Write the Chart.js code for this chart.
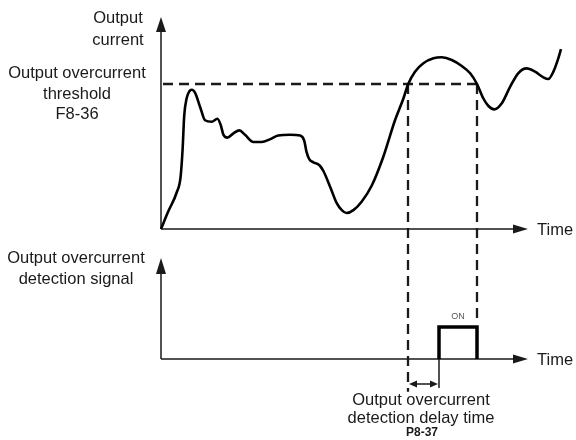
<!DOCTYPE html>
<html>
<head>
<meta charset="utf-8">
<script src="https://cdn.jsdelivr.net/npm/chart.js@4.4.1/dist/chart.umd.min.js"></script>
<style>
  html, body { margin: 0; padding: 0; background: #ffffff; }
  #wrap { position: relative; width: 576px; height: 440px; }
</style>
</head>
<body>
<div id="wrap"><canvas id="chart" width="576" height="440"></canvas></div>
<script>
// Output current over time (threshold = 100)
const timeValues = [0, 1.8, 3.9, 4.9, 5.4, 5.8, 6.4, 7.1, 7.7, 8.5,
  9.8, 11, 12.7, 14.1, 14.9, 15.6, 16.6, 18.1, 19.6, 21,
  23.1, 25.2, 27.3, 29.3, 32.3, 34.8, 35.8, 36.4, 37.1, 38.1,
  39.6, 40.6, 42.3, 43.9, 45.2, 46.4, 48.1, 50.2, 52.7, 55.6,
  58.5, 60.6, 61.8, 63.5, 65.6, 68.1, 70.2, 72.7, 75.2, 77.3,
  79, 80.6, 81.8, 83.3, 85.2, 87.3, 89.3, 91.4, 93.5, 95.6,
  96.8, 98.1, 99.2, 100];
const currentValues = [0, 12, 25, 36, 55, 78, 90, 95, 96, 94,
  84, 75, 74, 76, 72, 65, 63, 66, 68, 65,
  60, 60, 62, 64.5, 65, 64.5, 61, 53, 48, 46,
  44, 40, 29, 18, 13, 11, 13, 19, 30, 50,
  75, 90, 100, 108.5, 114.3, 117.7, 118.4, 116.6, 112.4, 107.4,
  100, 90, 85, 82.5, 86.7, 98.2, 107.4, 110.8, 108.5, 104.6,
  103.4, 108.5, 116.6, 124];

// Overcurrent detection signal (0 = off, 1 = ON)
const signalTimes = [69.5, 69.5, 79, 79];
const signalValues = [0, 1, 1, 0];

// Threshold F8-36 and the moments the current crosses it
const threshold = 100;
const crossUpTime = 61.75;
const crossDownTime = 79;
const detectTime = 69.5;   // crossUpTime + delay P8-37
const axisEndTime = 91.75;

const FONT = '"Liberation Sans", Arial, Helvetica, sans-serif';
const INK = '#1a1a1a';

function arrowHead(ctx, x, y, dir, len, half) {
  ctx.beginPath();
  if (dir === 'up') {
    ctx.moveTo(x, y); ctx.lineTo(x - half, y + len); ctx.lineTo(x + half, y + len);
  } else if (dir === 'right') {
    ctx.moveTo(x, y); ctx.lineTo(x - len, y - half); ctx.lineTo(x - len, y + half);
  } else if (dir === 'left') {
    ctx.moveTo(x, y); ctx.lineTo(x + len, y - half); ctx.lineTo(x + len, y + half);
  }
  ctx.closePath();
  ctx.fill();
}

const diagramPlugin = {
  id: 'diagram',
  beforeDatasetsDraw(chart) {
    const { ctx, scales } = chart;
    const x = scales.x, yc = scales.yCur, ys = scales.ySig;
    const x0 = x.getPixelForValue(0);
    const xEnd = x.getPixelForValue(axisEndTime);
    const yBase = yc.getPixelForValue(0);
    const sBase = ys.getPixelForValue(0);
    ctx.save();
    ctx.strokeStyle = INK;
    ctx.fillStyle = INK;
    ctx.lineWidth = 1.5;

    // top axes
    ctx.beginPath();
    ctx.moveTo(x0, yBase); ctx.lineTo(x0, yc.getPixelForValue(146.2) + 10);
    ctx.moveTo(x0, yBase); ctx.lineTo(xEnd - 10, yBase);
    ctx.stroke();
    arrowHead(ctx, x0, yc.getPixelForValue(146.2), 'up', 15, 5);
    arrowHead(ctx, xEnd, yBase, 'right', 15, 4.5);

    // bottom axes
    const sTop = ys.getPixelForValue(3.156);
    ctx.beginPath();
    ctx.moveTo(x0, sBase); ctx.lineTo(x0, sTop + 10);
    ctx.moveTo(x0, sBase); ctx.lineTo(xEnd - 10, sBase);
    ctx.stroke();
    arrowHead(ctx, x0, sTop, 'up', 16, 5);
    arrowHead(ctx, xEnd, sBase, 'right', 15, 4.5);

    // dashed threshold and crossing markers
    const yThr = yc.getPixelForValue(threshold);
    const xUp = x.getPixelForValue(crossUpTime);
    const xDown = x.getPixelForValue(crossDownTime);
    ctx.lineWidth = 2.3;
    ctx.setLineDash([10, 6]);
    ctx.beginPath();
    ctx.moveTo(x0 + 2, yThr); ctx.lineTo(xDown, yThr);
    ctx.stroke();
    ctx.beginPath();
    ctx.moveTo(xUp, yThr); ctx.lineTo(xUp, ys.getPixelForValue(-1.02));
    ctx.stroke();
    ctx.beginPath();
    ctx.moveTo(xDown, yThr); ctx.lineTo(xDown, ys.getPixelForValue(1.22));
    ctx.stroke();
    ctx.setLineDash([]);

    // delay arrow between crossing and detection
    const xDet = x.getPixelForValue(detectTime);
    const yArr = ys.getPixelForValue(-0.78);
    ctx.lineWidth = 1.5;
    ctx.beginPath();
    ctx.moveTo(xDet, sBase); ctx.lineTo(xDet, yArr + 4);
    ctx.moveTo(xUp + 6, yArr); ctx.lineTo(xDet - 6, yArr);
    ctx.stroke();
    arrowHead(ctx, xUp + 1, yArr, 'left', 8, 3.5);
    arrowHead(ctx, xDet - 1, yArr, 'right', 8, 3.5);
    ctx.restore();
  },
  afterDraw(chart) {
    const { ctx, scales } = chart;
    ctx.save();
    ctx.fillStyle = INK;
    ctx.textBaseline = 'middle';
    ctx.font = '16.5px ' + FONT;
    ctx.textAlign = 'center';
    ctx.fillText('Output', 118, 18);
    ctx.fillText('current', 118, 40);
    ctx.fillText('Output overcurrent', 77, 73);
    ctx.fillText('threshold', 77, 94);
    ctx.fillText('F8-36', 77, 114);
    ctx.fillText('Output overcurrent', 76, 258);
    ctx.fillText('detection signal', 76, 279);
    ctx.fillText('Output overcurrent', 421, 400);
    ctx.fillText('detection delay time', 421, 418);
    ctx.font = 'bold 12px ' + FONT;
    ctx.fillText('P8-37', 422, 433);
    ctx.textAlign = 'left';
    ctx.font = '16.5px ' + FONT;
    ctx.fillText('Time', 537, 230);
    ctx.fillText('Time', 537, 360);
    ctx.font = '9px ' + FONT;
    ctx.fillStyle = '#555';
    ctx.textAlign = 'center';
    ctx.fillText('ON', scales.x.getPixelForValue((detectTime + crossDownTime) / 2), 317);
    ctx.restore();
  }
};

const currentData = timeValues.map((t, i) => ({ x: t, y: currentValues[i] }));
const signalData = signalTimes.map((t, i) => ({ x: t, y: signalValues[i] }));

new Chart(document.getElementById('chart'), {
  type: 'line',
  data: {
    datasets: [
      {
        label: 'Output current',
        data: currentData,
        yAxisID: 'yCur',
        borderColor: '#000',
        borderWidth: 2.6,
        pointRadius: 0,
        cubicInterpolationMode: 'monotone',
        fill: false,
        clip: false
      },
      {
        label: 'Output overcurrent detection signal',
        data: signalData,
        yAxisID: 'ySig',
        borderColor: '#000',
        borderWidth: 3.5,
        pointRadius: 0,
        tension: 0,
        borderJoinStyle: 'miter',
        fill: false,
        clip: false
      }
    ]
  },
  options: {
    responsive: false,
    animation: false,
    events: [],
    layout: { padding: { left: 161, right: 15, top: 17, bottom: 81 } },
    plugins: { legend: { display: false }, title: { display: false }, tooltip: { enabled: false } },
    scales: {
      x: { type: 'linear', min: 0, max: 100, display: false },
      yCur: { type: 'linear', min: -89.66, max: 146.21, display: false },
      ySig: { type: 'linear', min: 0, max: 10.6875, display: false }
    }
  },
  plugins: [diagramPlugin]
});
</script>
</body>
</html>
